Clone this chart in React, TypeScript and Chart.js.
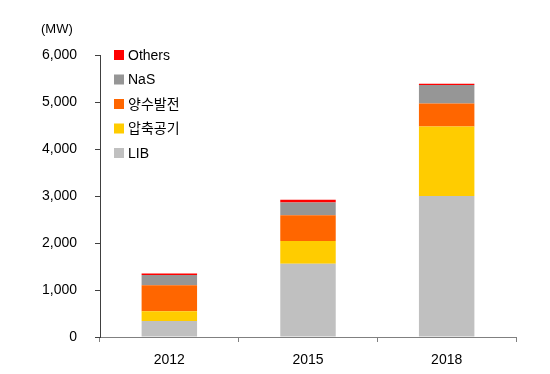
import React, { useEffect, useRef } from "react";
import { Chart, registerables } from "chart.js";

Chart.register(...registerables);

const categories = ["2012", "2015", "2018"];
const lib = [340, 1560, 3000];
const compressedAir = [210, 480, 1480];
const pumpedHydro = [550, 550, 490];
const nas = [220, 270, 390];
const others = [30, 60, 30];
const unitLabel = "(MW)";

const FONT = "'Liberation Sans', 'Noto Sans CJK KR', Arial, sans-serif";

const legendPlugin = {
  id: "customLegend",
  afterDraw(chart: any) {
    const ctx = chart.ctx;
    const area = chart.chartArea;
    const ds = chart.data.datasets.slice().reverse();
    ctx.save();
    ctx.font = `14px ${FONT}`;
    ctx.textBaseline = "middle";
    ctx.textAlign = "left";
    ds.forEach((d: any, i: number) => {
      const y = area.top + i * 24.5;
      ctx.fillStyle = d.backgroundColor;
      ctx.fillRect(area.left + 14, y - 5, 10, 10);
      ctx.fillStyle = "#000";
      ctx.fillText(d.label, area.left + 28, y + 1);
    });
    ctx.font = `13px ${FONT}`;
    ctx.textAlign = "left";
    ctx.fillText(unitLabel, 41, 29);
    ctx.restore();
  },
};

export default function App() {
  const ref = useRef<HTMLCanvasElement>(null);
  useEffect(() => {
    document.body.style.margin = "0";
    const chart = new Chart(ref.current!, {
      type: "bar",
      data: {
        labels: categories,
        datasets: [
          { label: "LIB", data: lib, backgroundColor: "#C0C0C0" },
          { label: "압축공기", data: compressedAir, backgroundColor: "#FFCC00" },
          { label: "양수발전", data: pumpedHydro, backgroundColor: "#FF6600" },
          { label: "NaS", data: nas, backgroundColor: "#969696" },
          { label: "Others", data: others, backgroundColor: "#FF0000" },
        ],
      },
      options: {
        animation: false,
        responsive: false,
        devicePixelRatio: 1,
        layout: { padding: { top: 55, right: 34, left: 0, bottom: 0 } },
        datasets: { bar: { categoryPercentage: 1, barPercentage: 0.4 } },
        plugins: { legend: { display: false }, tooltip: { enabled: false } },
        scales: {
          x: {
            stacked: true,
            afterFit: (s: any) => { s.height = 37; },
            border: { color: "#808080", width: 1 },
            grid: { drawOnChartArea: false, drawTicks: true, tickLength: 5, color: "#808080", offset: true },
            ticks: { color: "#000", font: { family: FONT, size: 14 }, padding: 10 },
          },
          y: {
            stacked: true,
            min: 0,
            max: 6000,
            afterFit: (s: any) => { s.width = 100; },
            border: { color: "#404040", width: 1 },
            grid: { drawOnChartArea: false, drawTicks: true, tickLength: 5, color: "#404040" },
            ticks: {
              stepSize: 1000,
              color: "#000",
              font: { family: FONT, size: 14 },
              padding: 18,
              callback: (v: any) => Number(v).toLocaleString("en-US"),
            },
          },
        },
      },
      plugins: [legendPlugin],
    });
    return () => chart.destroy();
  }, []);
  return <canvas ref={ref} width={550} height={374} style={{ display: "block" }} />;
}
